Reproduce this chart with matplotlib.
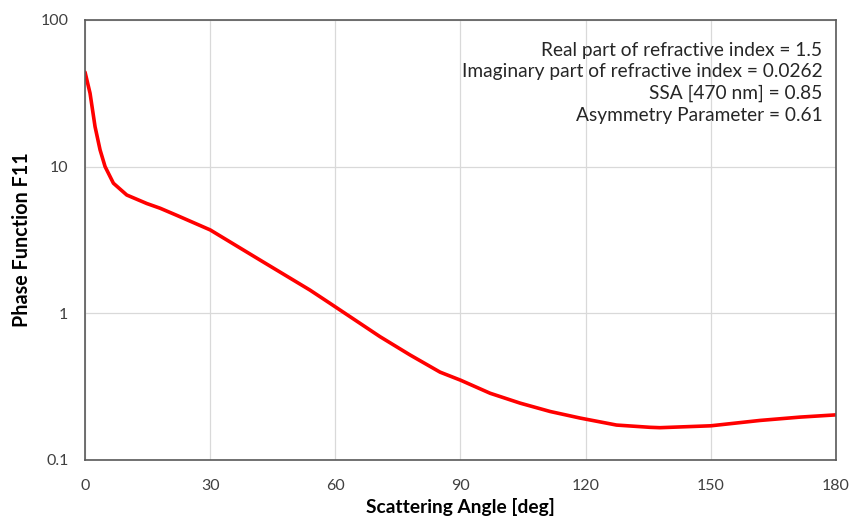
import numpy as np
import matplotlib.pyplot as plt
from matplotlib.ticker import FixedLocator, FixedFormatter, NullLocator

# data
angle = [0, 1.2, 2.4, 3.6, 4.8, 6.8, 10, 14.8, 18, 22, 30, 41.9, 53.9, 58.7, 62.3,
         70.7, 77.9, 85.1, 90, 97.1, 104.3, 111.5, 118.7, 127.4, 135.4, 137.8, 150,
         161.8, 171.4, 180]
f11 = [44, 31.6, 18.7, 13.0, 10.0, 7.7, 6.4, 5.6, 5.2, 4.65, 3.7, 2.31, 1.44, 1.17,
       1.0, 0.693, 0.52, 0.397, 0.35, 0.285, 0.244, 0.214, 0.193, 0.173, 0.167,
       0.166, 0.171, 0.186, 0.196, 0.203]
x_ticks = [0, 30, 60, 90, 120, 150, 180]
y_ticks = [0.1, 1, 10, 100]
y_labels = ['0.1', '1', '10', '100']
notes = ['Real part of refractive index = 1.5',
         'Imaginary part of refractive index = 0.0262',
         'SSA [470 nm] = 0.85',
         'Asymmetry Parameter = 0.61']

plt.rcParams['font.family'] = ['Lato', 'DejaVu Sans']

fig = plt.figure(figsize=(8.53, 5.23), dpi=100)
ax = fig.add_axes([0.0997, 0.1205, 0.8803, 0.8415])
ax.plot(angle, f11, color='#ff0000', lw=2.6, solid_capstyle='round',
        solid_joinstyle='round')
ax.set_yscale('log')
ax.set_xlim(0, 180)
ax.set_ylim(0.1, 100)
ax.xaxis.set_major_locator(FixedLocator(x_ticks))
ax.yaxis.set_major_locator(FixedLocator(y_ticks))
ax.yaxis.set_major_formatter(FixedFormatter(y_labels))
ax.yaxis.set_minor_locator(NullLocator())
ax.grid(True, color='#d9d9d9', lw=0.9)
ax.set_axisbelow(True)
ax.tick_params(length=0, labelsize=11.5, colors='#404040')
ax.tick_params(axis='x', pad=14)
ax.tick_params(axis='y', pad=12)
for s in ax.spines.values():
    s.set_color('#595959')
    s.set_linewidth(1.2)

ax.set_xlabel('Scattering Angle [deg]', fontsize=13.8, fontweight='bold', labelpad=3)
ax.set_ylabel('Phase Function F11', fontsize=14.2, fontweight='bold', labelpad=6)

ax.text(0.982, 0.95, '\n'.join(notes), transform=ax.transAxes, ha='right', va='top',
        fontsize=13.8, color='#262626', linespacing=1.33, multialignment='right')

fig.savefig('out.png', dpi=100)
